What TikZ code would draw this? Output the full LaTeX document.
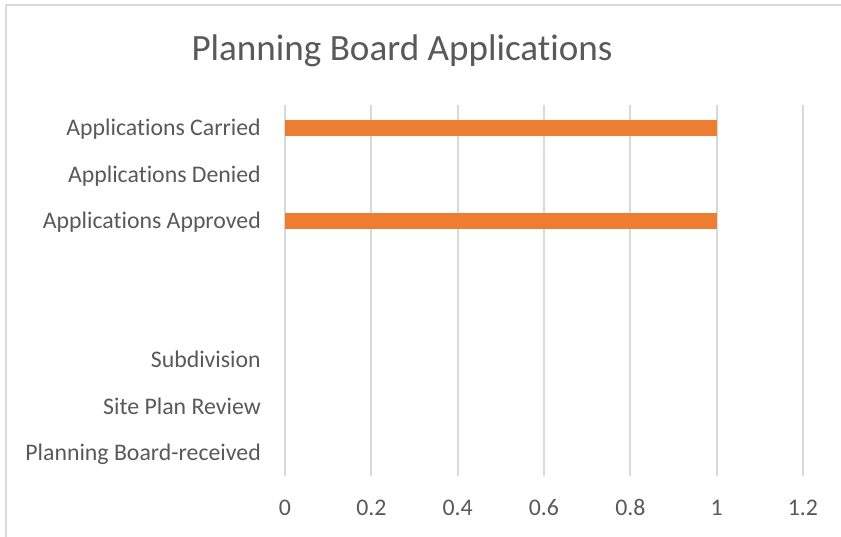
\documentclass[tikz,border=0pt]{standalone}
\usepackage{fontspec}
\setmainfont[Ligatures={NoCommon}]{Carlito}
\definecolor{txt}{HTML}{595959}
\definecolor{grid}{HTML}{D9D9D9}
\definecolor{bar}{HTML}{ED7D31}
\begin{document}
\begin{tikzpicture}[x=1pt,y=-1pt,
  cat/.style={anchor=base east,inner sep=0pt,text=txt,font=\fontsize{23.8}{28}\selectfont},
  tick/.style={anchor=base,inner sep=0pt,text=txt,font=\fontsize{23.8}{28}\selectfont},
  gridline/.style={draw=grid,line width=2pt},
  barbox/.style={fill=bar,draw=none}]
\useasboundingbox (0,0) rectangle (841,537);
\fill[white] (0,0) rectangle (841,537);
\draw[draw=grid,line width=2pt] (6,537) -- (6,5) -- (841,5);
\node[anchor=base,inner sep=0pt,text=txt,font=\fontsize{37.1}{44}\selectfont] (title) at (402,61) {Planning Board Applications};
% gridlines
\foreach \i/\v in {0/0,1/0.2,2/0.4,3/0.6,4/0.8,5/1,6/1.2}{
  \coordinate (gt\i) at ({285+86.33*\i},105);
  \coordinate (gb\i) at ({285+86.33*\i},476);
  \draw[gridline] (gt\i) -- (gb\i);
  \node[tick] (t\i) at ({285+86.33*\i},515) {\v};
}
% bars
\fill[barbox] (285,120) rectangle (716.6,136.4);
\fill[barbox] (285,212.8) rectangle (716.6,229.2);
% category labels
\node[cat] (c1) at (261,135.7) {Applications Carried};
\node[cat] (c2) at (261,182.1) {Applications Denied};
\node[cat] (c3) at (261,228.5) {Applications Approved};
\node[cat] (c6) at (261,367.7) {Subdivision};
\node[cat] (c7) at (261,414.1) {Site Plan Review};
\node[cat] (c8) at (261,460.5) {Planning Board-received};
\end{tikzpicture}
\end{document}
